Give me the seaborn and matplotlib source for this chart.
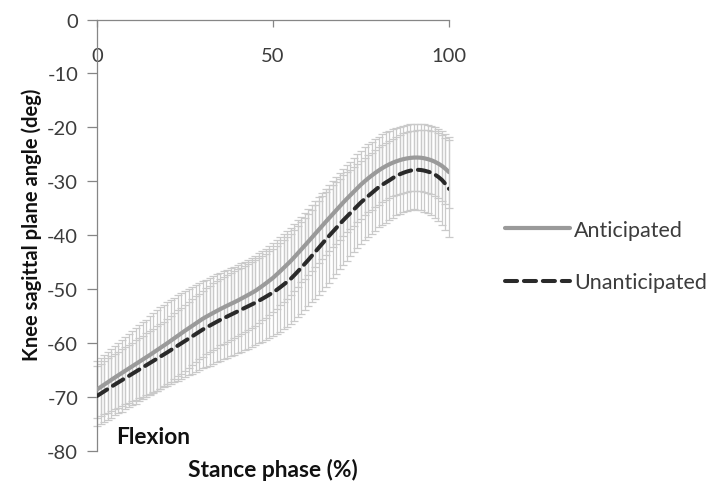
import numpy as np
import pandas as pd
import matplotlib
matplotlib.use("Agg")
import matplotlib.pyplot as plt
import seaborn as sns

# Stance phase (% of stance), one sample per percent
stance_pct = list(range(0, 101))

# Mean knee sagittal plane angle (deg)
anticipated_mean = [
    -68.60, -68.16, -67.72, -67.28, -66.84, -66.40, -65.98, -65.56, -65.14, -64.72,
    -64.30, -63.88, -63.46, -63.04, -62.62, -62.20, -61.76, -61.32, -60.88, -60.44,
    -60.00, -59.54, -59.08, -58.62, -58.16, -57.70, -57.26, -56.82, -56.38, -55.94,
    -55.50, -55.12, -54.76, -54.40, -54.05, -53.70, -53.37, -53.05, -52.73, -52.42,
    -52.10, -51.75, -51.40, -51.04, -50.68, -50.30, -49.85, -49.38, -48.90, -48.40,
    -47.90, -47.30, -46.70, -46.07, -45.44, -44.80, -44.10, -43.38, -42.66, -41.93,
    -41.20, -40.46, -39.72, -38.98, -38.24, -37.50, -36.78, -36.06, -35.34, -34.62,
    -33.90, -33.22, -32.56, -31.90, -31.25, -30.60, -30.02, -29.47, -28.95, -28.46,
    -28.00, -27.58, -27.20, -26.86, -26.56, -26.30, -26.08, -25.90, -25.76, -25.66,
    -25.60, -25.59, -25.63, -25.73, -25.89, -26.10, -26.38, -26.73, -27.15, -27.68,
    -28.30,
]
unanticipated_mean = [
    -69.80, -69.38, -68.96, -68.54, -68.12, -67.70, -67.30, -66.90, -66.50, -66.10,
    -65.70, -65.30, -64.90, -64.50, -64.10, -63.70, -63.30, -62.90, -62.50, -62.10,
    -61.70, -61.28, -60.86, -60.44, -60.02, -59.60, -59.18, -58.76, -58.34, -57.92,
    -57.50, -57.13, -56.77, -56.41, -56.05, -55.70, -55.38, -55.06, -54.74, -54.42,
    -54.10, -53.78, -53.46, -53.14, -52.82, -52.50, -52.14, -51.77, -51.39, -51.00,
    -50.60, -50.15, -49.67, -49.16, -48.64, -48.10, -47.44, -46.75, -46.04, -45.32,
    -44.60, -43.84, -43.08, -42.32, -41.56, -40.80, -40.07, -39.35, -38.63, -37.91,
    -37.20, -36.53, -35.87, -35.21, -34.55, -33.90, -33.32, -32.76, -32.21, -31.65,
    -31.10, -30.66, -30.24, -29.84, -29.41, -29.00, -28.70, -28.43, -28.20, -28.02,
    -27.90, -27.86, -27.90, -28.02, -28.20, -28.40, -28.75, -29.20, -29.75, -30.50,
    -31.40,
]

# Standard deviations (deg)
anticipated_sd = [
    5.3, 5.4, 5.5, 5.7, 5.8, 5.9, 6.0, 6.1, 6.2, 6.4,
    6.5, 6.6, 6.8, 6.9, 7.0, 7.2, 7.3, 7.5, 7.6, 7.6,
    7.6, 7.6, 7.5, 7.5, 7.5, 7.4, 7.3, 7.2, 7.1, 7.0,
    7.0, 6.9, 6.9, 6.8, 6.8, 6.7, 6.7, 6.7, 6.6, 6.6,
    6.6, 6.6, 6.5, 6.5, 6.5, 6.5, 6.5, 6.4, 6.4, 6.4,
    6.4, 6.4, 6.3, 6.3, 6.3, 6.2, 6.2, 6.2, 6.1, 6.1,
    6.1, 6.1, 6.1, 6.1, 6.1, 6.1, 6.1, 6.2, 6.2, 6.2,
    6.2, 6.2, 6.2, 6.3, 6.3, 6.3, 6.3, 6.3, 6.3, 6.3,
    6.3, 6.3, 6.3, 6.2, 6.2, 6.2, 6.2, 6.2, 6.2, 6.2,
    6.2, 6.2, 6.2, 6.3, 6.3, 6.3, 6.4, 6.4, 6.5, 6.5,
    6.6,
]
unanticipated_sd = [
    5.6, 5.6, 5.6, 5.7, 5.7, 5.7, 5.7, 5.8, 5.8, 5.8,
    5.8, 5.9, 5.9, 5.9, 5.9, 6.0, 6.0, 6.0, 6.0, 6.1,
    6.2, 6.3, 6.4, 6.5, 6.6, 6.7, 6.8, 6.9, 7.0, 7.1,
    7.2, 7.3, 7.4, 7.5, 7.5, 7.6, 7.6, 7.7, 7.7, 7.7,
    7.8, 7.8, 7.8, 7.9, 7.9, 7.9, 7.9, 8.0, 8.0, 8.0,
    8.1, 8.1, 8.2, 8.2, 8.3, 8.3, 8.4, 8.4, 8.5, 8.5,
    8.6, 8.6, 8.7, 8.7, 8.8, 8.8, 8.7, 8.6, 8.5, 8.4,
    8.3, 8.2, 8.0, 7.9, 7.8, 7.7, 7.6, 7.6, 7.5, 7.5,
    7.4, 7.4, 7.4, 7.3, 7.3, 7.3, 7.3, 7.3, 7.3, 7.3,
    7.3, 7.4, 7.5, 7.6, 7.7, 7.8, 8.0, 8.2, 8.4, 8.6,
    9.0,
]

series_names = ["Anticipated", "Unanticipated"]
x_ticks = [0, 50, 100]
y_ticks = [0, -10, -20, -30, -40, -50, -60, -70, -80]

df = pd.DataFrame({
    "stance": stance_pct * 2,
    "angle": anticipated_mean + unanticipated_mean,
    "sd": anticipated_sd + unanticipated_sd,
    "condition": [series_names[0]] * len(stance_pct) + [series_names[1]] * len(stance_pct),
})

sns.set_theme(style="white")
plt.rcParams["font.family"] = ["Lato", "DejaVu Sans"]

W, H = 716, 489
fig = plt.figure(figsize=(W / 100, H / 100), dpi=100)
ax = fig.add_axes([97 / W, (H - 452) / H, 352 / W, 431.5 / H])

bar_color = "#cacaca"
line_colors = {"Anticipated": "#9a9a9a", "Unanticipated": "#2a2a2a"}

# Standard-deviation whiskers at every sample
for name in series_names:
    sub = df[df["condition"] == name]
    ax.errorbar(sub["stance"], sub["angle"], yerr=sub["sd"], fmt="none",
                ecolor=bar_color, elinewidth=0.9, capsize=2.9, capthick=0.9,
                zorder=1, clip_on=False)

sub_a = df[df["condition"] == "Anticipated"]
sub_u = df[df["condition"] == "Unanticipated"]
sns.lineplot(data=sub_a, x="stance", y="angle", color=line_colors["Anticipated"],
             lw=3.0, label="Anticipated", ax=ax, zorder=3)
sns.lineplot(data=sub_u, x="stance", y="angle", color=line_colors["Unanticipated"],
             lw=2.9, label="Unanticipated", ax=ax, zorder=4)
ax.lines[-1].set_dashes([3.0, 1.7])
ax.lines[-1].set_dash_capstyle("round")

ax.set_xlim(0, 100)
ax.set_ylim(-80, 0)
ax.set_xticks(x_ticks)
ax.set_yticks(y_ticks)
ax.set_yticklabels([str(v) for v in y_ticks])

for side in ("right", "bottom"):
    ax.spines[side].set_visible(False)
for side in ("left", "top"):
    ax.spines[side].set_color("#868686")
    ax.spines[side].set_linewidth(0.9)

tick_color = "#3c3c3c"
ax.xaxis.set_ticks_position("top")
ax.tick_params(axis="x", which="major", top=True, bottom=False, labeltop=True,
               labelbottom=False, direction="in", length=5, width=0.9,
               color="#868686", pad=-32, labelsize=14.5, labelcolor=tick_color)
ax.tick_params(axis="y", which="major", left=True, direction="out", length=7,
               width=0.9, color="#868686", pad=6.5, labelsize=14.5,
               labelcolor=tick_color)

ax.set_xlabel("Stance phase (%)", fontsize=16.4, fontweight="bold", color="#111111")
ax.xaxis.set_label_position("bottom")
ax.xaxis.set_label_coords(0.5, (452 - 470) / 431.5)
ax.xaxis.label.set_verticalalignment("center")

ax.set_ylabel("Knee sagittal plane angle (deg)", fontsize=14.5, fontweight="bold",
              color="#111111")
ax.yaxis.set_label_coords((32 - 97) / 352, (452 - 225) / 431.5)
ax.yaxis.label.set_verticalalignment("center")

fig.text(116 / W, 1 - 438 / H, "Flexion", fontsize=16.4, fontweight="bold",
         color="#111111", ha="left", va="center")

leg = ax.legend(loc="center left", bbox_to_anchor=(505 / W, 1 - 257 / H),
                bbox_transform=fig.transFigure, frameon=False, fontsize=15.5,
                handlelength=3.0, handletextpad=0.22, labelspacing=1.5,
                borderpad=0, borderaxespad=0)
for t in leg.get_texts():
    t.set_color(tick_color)

fig.savefig("out.png", dpi=100)
